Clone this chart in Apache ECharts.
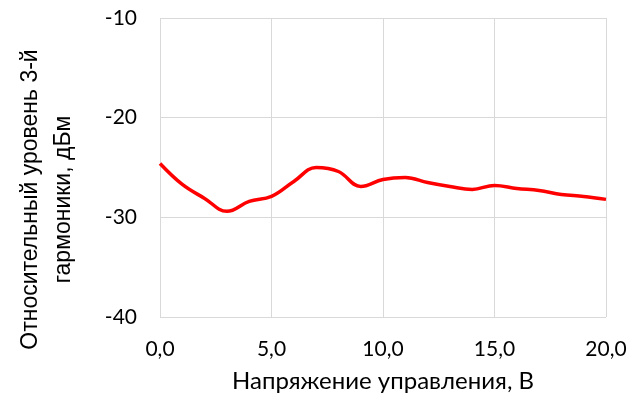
<!DOCTYPE html>
<html>
<head>
<meta charset="utf-8">
<script src="https://cdn.jsdelivr.net/npm/echarts@6/dist/echarts.min.js"></script>
<style>
  html, body { margin: 0; padding: 0; background: #fff; }
  #chart { width: 641px; height: 401px; }
</style>
</head>
<body>
<div id="chart"></div>
<script>
const voltage = [0, 1, 2, 3, 4, 5, 6, 7, 8, 9, 10, 11, 12, 13, 14, 15, 16, 17, 18, 19, 20];
const level = [-24.6, -26.7, -28.1, -29.4, -28.4, -27.9, -26.4, -25.0, -25.4, -26.9, -26.2,
               -26.0, -26.5, -26.9, -27.2, -26.8, -27.1, -27.3, -27.7, -27.9, -28.2];

const xTitle = 'Напряжение управления, В';
const yTitle = 'Относительный уровень 3-й\nгармоники, дБм';

const font = 'Lato, "Open Sans", sans-serif';
const titleFont = '"Liberation Sans", Arial, sans-serif';

let chart = echarts.init(document.getElementById('chart'));
chart.setOption({
    animation: false,
    grid: { left: 160, right: 35, top: 18, bottom: 84, outerBoundsMode: 'none' },
    xAxis: {
        type: 'value',
        min: 0,
        max: 20,
        interval: 5,
        name: xTitle,
        nameLocation: 'middle',
        nameGap: 52,
        nameTextStyle: { fontFamily: font, fontSize: 24, color: '#000' },
        axisLine: { show: false },
        axisTick: { show: false },
        axisLabel: {
            fontFamily: font, fontSize: 21, color: '#000', margin: 22,
            formatter: v => v.toFixed(1).replace('.', ',')
        },
        splitLine: { lineStyle: { color: '#d9d9d9', width: 1 } }
    },
    yAxis: {
        type: 'value',
        min: -40,
        max: -10,
        interval: 10,
        name: yTitle,
        nameLocation: 'middle',
        nameGap: 80,
        nameRotate: 90,
        nameTextStyle: {
            fontFamily: titleFont, fontSize: 23, color: '#000',
            lineHeight: 33, padding: [0, 64, 0, 0]
        },
        axisLine: { show: false },
        axisTick: { show: false },
        axisLabel: { fontFamily: font, fontSize: 21, color: '#000', margin: 23 },
        splitLine: { lineStyle: { color: '#d9d9d9', width: 1 } }
    },
    series: [{
        type: 'line',
        data: voltage.map((v, i) => [v, level[i]]),
        smooth: 0.4,
        symbol: 'none',
        lineStyle: { color: '#ff0000', width: 3.5 }
    }]
});
</script>
</body>
</html>
